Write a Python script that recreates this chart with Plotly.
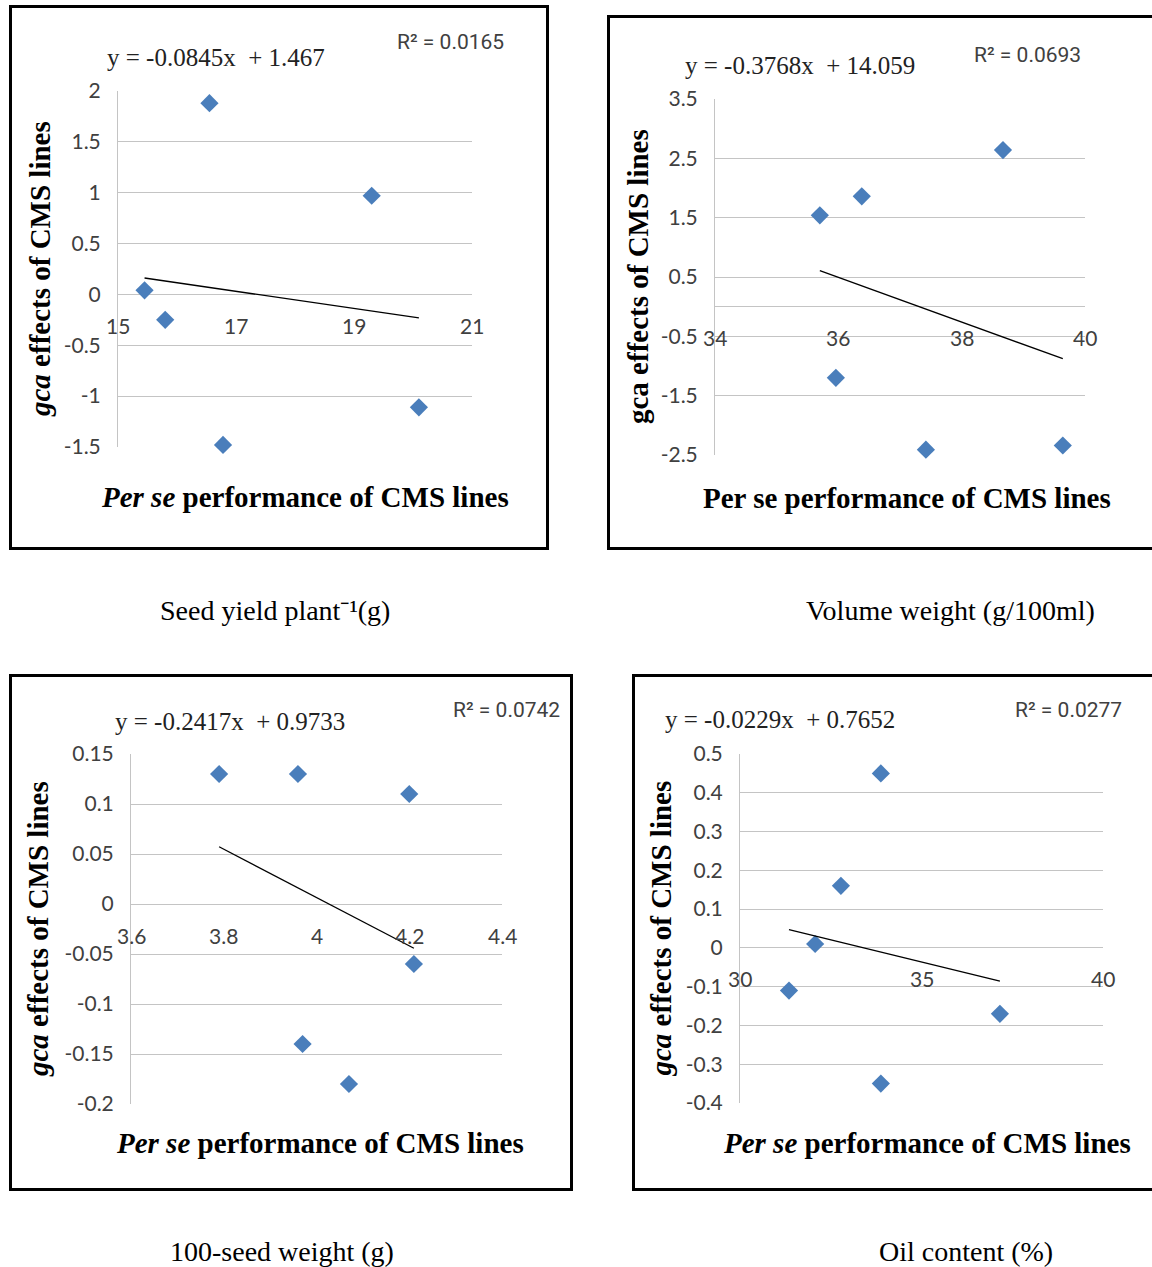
import plotly.graph_objects as go

# ---- data: per se performance (x) vs gca effects (y) of CMS lines ----
seed_x = [15.45, 15.8, 16.55, 16.78, 19.3, 20.1]
seed_y = [0.04, -0.25, 1.88, -1.48, 0.97, -1.11]

vol_x = [35.7, 35.96, 36.38, 37.42, 38.67, 39.64]
vol_y = [1.54, -1.2, 1.86, -2.41, 2.64, -2.34]

sw_x = [3.79, 3.96, 3.97, 4.07, 4.2, 4.21]
sw_y = [0.13, 0.13, -0.14, -0.18, 0.11, -0.06]

oil_x = [31.35, 32.07, 32.78, 33.88, 33.88, 37.16]
oil_y = [-0.11, 0.01, 0.16, 0.45, -0.35, -0.17]

# linear trendline coefficients (slope, intercept) and R squared
seed_fit = (-0.0845, 1.467)
vol_fit = (-0.3768, 14.059)
sw_fit = (-0.2417, 0.9733)
oil_fit = (-0.0229, 0.7652)

seed_eq = "y = -0.0845x  + 1.467"
vol_eq = "y = -0.3768x  + 14.059"
sw_eq = "y = -0.2417x  + 0.9733"
oil_eq = "y = -0.0229x  + 0.7652"

seed_r2 = "R² = 0.0165"
vol_r2 = "R² = 0.0693"
sw_r2 = "R² = 0.0742"
oil_r2 = "R² = 0.0277"

# y tick values and labels
seed_yticks = [-1.5, -1, -0.5, 0, 0.5, 1, 1.5, 2]
seed_ylabels = ["-1.5", "-1", "-0.5", "0", "0.5", "1", "1.5", "2"]
vol_yticks = [-2.5, -1.5, -0.5, 0.5, 1.5, 2.5, 3.5]
vol_ylabels = ["-2.5", "-1.5", "-0.5", "0.5", "1.5", "2.5", "3.5"]
sw_yticks = [-0.2, -0.15, -0.1, -0.05, 0, 0.05, 0.1, 0.15]
sw_ylabels = ["-0.2", "-0.15", "-0.1", "-0.05", "0", "0.05", "0.1", "0.15"]
oil_yticks = [-0.4, -0.3, -0.2, -0.1, 0, 0.1, 0.2, 0.3, 0.4, 0.5]
oil_ylabels = ["-0.4", "-0.3", "-0.2", "-0.1", "0", "0.1", "0.2", "0.3", "0.4", "0.5"]

# x tick labels (drawn along the y = 0 axis line)
seed_xticks = [15, 17, 19, 21]
vol_xticks = [34, 36, 38, 40]
sw_xticks = [3.6, 3.8, 4, 4.2, 4.4]
oil_xticks = [30, 35, 40]

captions = ["Seed yield plant⁻¹(g)", "Volume weight (g/100ml)",
            "100-seed weight (g)", "Oil content (%)"]

W, H = 1152, 1267


def fx(px):
    return px / W


def fy(py):
    return 1 - py / H


SANS = "Lato"
R2FONT = "Roboto"
SERIF = "Liberation Serif"
BLUE = "#4A7EBB"
GRID = "#C4C4C4"
TICK = "#404040"

panels = [
    dict(x=seed_x, y=seed_y, fit=seed_fit, eq=seed_eq, r2=seed_r2, xt=seed_xticks,
         yt=seed_yticks, yl=seed_ylabels, xr=[15, 21], yr=[-1.5, 2],
         dom=(118, 472, 91, 447), box=(10.5, 6.5, 547.5, 548.5),
         eqpos=(216, 57), r2pos=(450, 42), xtpos=(305, 497), ytpos=40,
         italic=True, cap=(275, 610)),
    dict(x=vol_x, y=vol_y, fit=vol_fit, eq=vol_eq, r2=vol_r2, xt=vol_xticks,
         yt=vol_yticks, yl=vol_ylabels, xr=[34, 40], yr=[-2.5, 3.5],
         dom=(715, 1085, 99, 455), box=(608.5, 16.5, 1156, 548.5),
         eqpos=(800, 66), r2pos=(1027, 55), xtpos=(907, 498), ytpos=638,
         italic=False, cap=(950, 610)),
    dict(x=sw_x, y=sw_y, fit=sw_fit, eq=sw_eq, r2=sw_r2, xt=sw_xticks,
         yt=sw_yticks, yl=sw_ylabels, xr=[3.6, 4.4], yr=[-0.2, 0.15],
         dom=(131, 502, 754, 1104), box=(10.5, 675.5, 571.5, 1189.5),
         eqpos=(230, 721), r2pos=(506, 710), xtpos=(320, 1143), ytpos=38,
         italic=True, cap=(282, 1251)),
    dict(x=oil_x, y=oil_y, fit=oil_fit, eq=oil_eq, r2=oil_r2, xt=oil_xticks,
         yt=oil_yticks, yl=oil_ylabels, xr=[30, 40], yr=[-0.4, 0.5],
         dom=(740, 1103, 754, 1103), box=(633.5, 675.5, 1156, 1189.5),
         eqpos=(780, 719), r2pos=(1068, 710), xtpos=(927, 1143), ytpos=660,
         italic=True, cap=(966, 1251)),
]

fig = go.Figure()
layout = dict(width=W, height=H, autosize=False, margin=dict(l=0, r=0, t=0, b=0, pad=0),
              paper_bgcolor="white", plot_bgcolor="white", showlegend=False)
annotations = []
shapes = []

for i, p in enumerate(panels, start=1):
    xa = "x" if i == 1 else f"x{i}"
    ya = "y" if i == 1 else f"y{i}"
    xkey = "xaxis" if i == 1 else f"xaxis{i}"
    ykey = "yaxis" if i == 1 else f"yaxis{i}"
    l, r, t, b = p["dom"]

    # scatter points
    fig.add_trace(go.Scatter(x=p["x"], y=p["y"], mode="markers", xaxis=xa, yaxis=ya,
                             cliponaxis=False,
                             marker=dict(symbol="diamond", size=14, color=BLUE,
                                         line=dict(width=0)),
                             hoverinfo="x+y"))
    # linear trendline over the data span
    slope, icpt = p["fit"]
    x_lo, x_hi = min(p["x"]), max(p["x"])
    fig.add_trace(go.Scatter(x=[x_lo, x_hi], y=[slope * x_lo + icpt, slope * x_hi + icpt],
                             mode="lines", xaxis=xa, yaxis=ya,
                             line=dict(color="black", width=1.3), hoverinfo="skip"))

    layout[xkey] = dict(domain=[fx(l), fx(r)], range=p["xr"], anchor=ya,
                        automargin=False, showgrid=False, zeroline=False,
                        showline=False, showticklabels=False, ticks="")
    layout[ykey] = dict(domain=[fy(b), fy(t)], range=p["yr"], anchor=xa,
                        automargin=False, tickmode="array", tickvals=p["yt"],
                        ticktext=p["yl"], showgrid=True, gridcolor=GRID,
                        gridwidth=1, zeroline=True, zerolinecolor=GRID, zerolinewidth=1,
                        showline=True, linecolor=GRID, linewidth=1, ticks="",
                        ticklabelstandoff=12,
                        tickfont=dict(family=SANS, size=21, color=TICK))

    # x tick labels sitting below the y = 0 axis line
    for v in p["xt"]:
        annotations.append(dict(x=v, y=0, xref=xa, yref=ya, text=str(v), showarrow=False,
                                yshift=-31, xanchor="center", yanchor="middle",
                                font=dict(family=SANS, size=21, color=TICK)))

    # trendline equation and R squared
    annotations.append(dict(x=fx(p["eqpos"][0]), y=fy(p["eqpos"][1]), xref="paper",
                            yref="paper", text=p["eq"], showarrow=False,
                            xanchor="center", yanchor="middle",
                            font=dict(family=SERIF, size=25, color="#222222")))
    annotations.append(dict(x=fx(p["r2pos"][0]), y=fy(p["r2pos"][1]), xref="paper",
                            yref="paper", text=p["r2"], showarrow=False,
                            xanchor="center", yanchor="middle",
                            font=dict(family=R2FONT, size=21, color=TICK)))

    # axis titles
    per_se = "<i>Per se</i>" if p["italic"] else "Per se"
    gca = "<i>gca</i>" if p["italic"] else "gca"
    annotations.append(dict(x=fx(p["xtpos"][0]), y=fy(p["xtpos"][1]), xref="paper",
                            yref="paper", text=f"<b>{per_se} performance of CMS lines</b>",
                            showarrow=False, xanchor="center", yanchor="middle",
                            font=dict(family=SERIF, size=29, color="black")))
    annotations.append(dict(x=fx(p["ytpos"]), y=fy((t + b) / 2), xref="paper",
                            yref="paper", text=f"<b>{gca} effects of CMS lines</b>",
                            textangle=-90, showarrow=False, xanchor="center",
                            yanchor="middle",
                            font=dict(family=SERIF, size=29, color="black")))

    # caption under each panel
    annotations.append(dict(x=fx(p["cap"][0]), y=fy(p["cap"][1]), xref="paper",
                            yref="paper", text=captions[i - 1], showarrow=False,
                            xanchor="center", yanchor="middle",
                            font=dict(family=SERIF, size=28, color="black")))

    # panel frame
    bx0, by0, bx1, by1 = p["box"]
    shapes.append(dict(type="rect", xref="paper", yref="paper",
                       x0=fx(bx0), x1=fx(bx1), y0=fy(by1), y1=fy(by0),
                       line=dict(color="black", width=3), fillcolor="rgba(0,0,0,0)"))

layout["annotations"] = annotations
layout["shapes"] = shapes
fig.update_layout(**layout)

fig.write_html("out.html")
